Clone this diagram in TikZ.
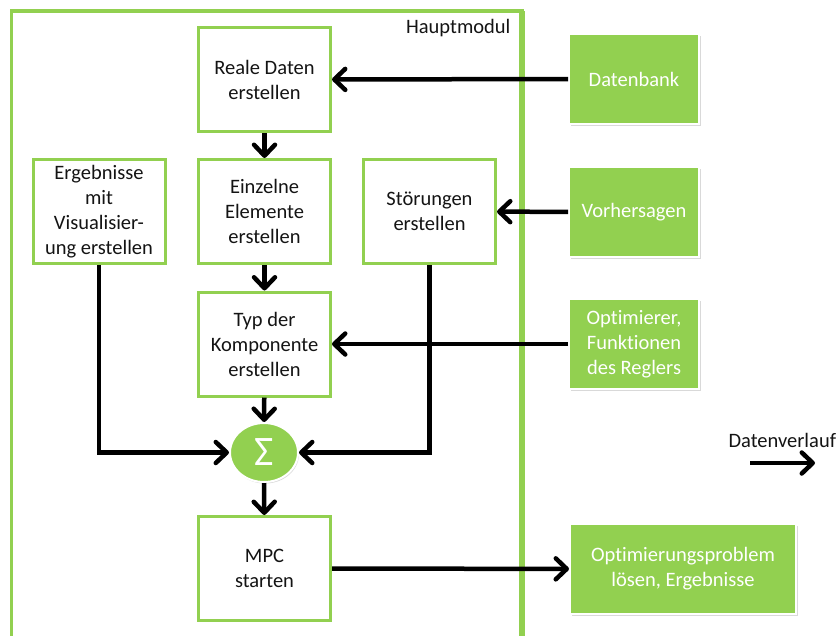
\documentclass[tikz,border=0pt]{standalone}
\usepackage{fontspec}
\setmainfont{Carlito}[Ligatures=NoCommon]
\usetikzlibrary{arrows.meta,shadows,shapes.geometric}
\definecolor{lgreen}{HTML}{92D050}
\definecolor{txt}{HTML}{141414}

\begin{document}
\begin{tikzpicture}[x=1pt,y=-1pt,
  every node/.style={font=\fontsize{20.5}{25}\selectfont, text=txt, align=center},
  stepbox/.style={draw=lgreen, line width=3pt, fill=white,
    minimum width=132pt, minimum height=104pt, inner sep=0pt},
  srcbox/.style={draw=white, line width=2pt, fill=lgreen, text=white, inner sep=0pt,
    minimum width=130pt, minimum height=90pt,
    drop shadow={shadow xshift=1.5pt, shadow yshift=-2pt, opacity=0.3}},
  arr/.style={line width=4.5pt, -{Straight Barb[length=11pt,width=21pt,round]}},
]
\useasboundingbox (0,0) rectangle (837,635);
\clip (0,0) rectangle (837,635);

% main module frame
\draw[lgreen, line width=3.5pt] (11.5,660) -- (11.5,11) -- (522,11) -- (522,660);
\draw[lgreen, line width=5.5pt] (522,11) -- (522,660);
\node[anchor=base east] (haupt) at (514,33) {Hauptmodul};

% processing steps
\node[stepbox] (reale) at (264.5,79.5) {Reale Daten\\erstellen};
\node[stepbox] (ergeb) at (99,211.5) {Ergebnisse\\mit\\Visualisier-\\ung erstellen};
\node[stepbox] (einz) at (264.5,211.5) {Einzelne\\Elemente\\erstellen};
\node[stepbox] (stoer) at (429.5,211.5) {Störungen\\erstellen};
\node[stepbox] (typ) at (264.5,344) {Typ der\\Komponente\\erstellen};
\node[ellipse, fill=lgreen, draw=white, line width=2pt, minimum width=68pt, minimum height=59pt,
  inner sep=0pt, text=white, font=\fontsize{42}{42}\selectfont,
  drop shadow={shadow xshift=1pt, shadow yshift=-1.5pt, opacity=0.3}] (sigma) at (264,452.5) {Σ};
\node[stepbox] (mpc) at (264.5,568.5) {MPC\\starten};

% external sources and sinks
\node[srcbox] (datenbank) at (634,79) {Datenbank};
\node[srcbox] (vorher) at (634,212) {Vorhersagen};
\node[srcbox] (optim) at (634,344) {Optimierer,\\Funktionen\\des Reglers};
\node[srcbox, minimum width=226pt] (optprob) at (683,569) {Optimierungsproblem\\lösen, Ergebnisse};

% data flow
\draw[arr] (datenbank) -- (reale);
\draw[arr] (vorher) -- (stoer);
\draw[arr] (optim) -- (typ);
\draw[arr] (reale) -- (einz);
\draw[arr] (einz) -- (typ);
\draw[arr] (typ) -- (sigma);
\draw[arr] (ergeb.south) |- (sigma.west);
\draw[arr] (stoer.south) |- (sigma.east);
\draw[arr] (sigma) -- (mpc);
\draw[arr] (mpc) -- (optprob);

% legend
\node[anchor=base west] (legtext) at (725,447) {Datenverlauf};
\coordinate (leg1) at (750,463);
\coordinate (leg2) at (815,463);
\draw[arr] (leg1) -- (leg2);
\end{tikzpicture}
\end{document}
